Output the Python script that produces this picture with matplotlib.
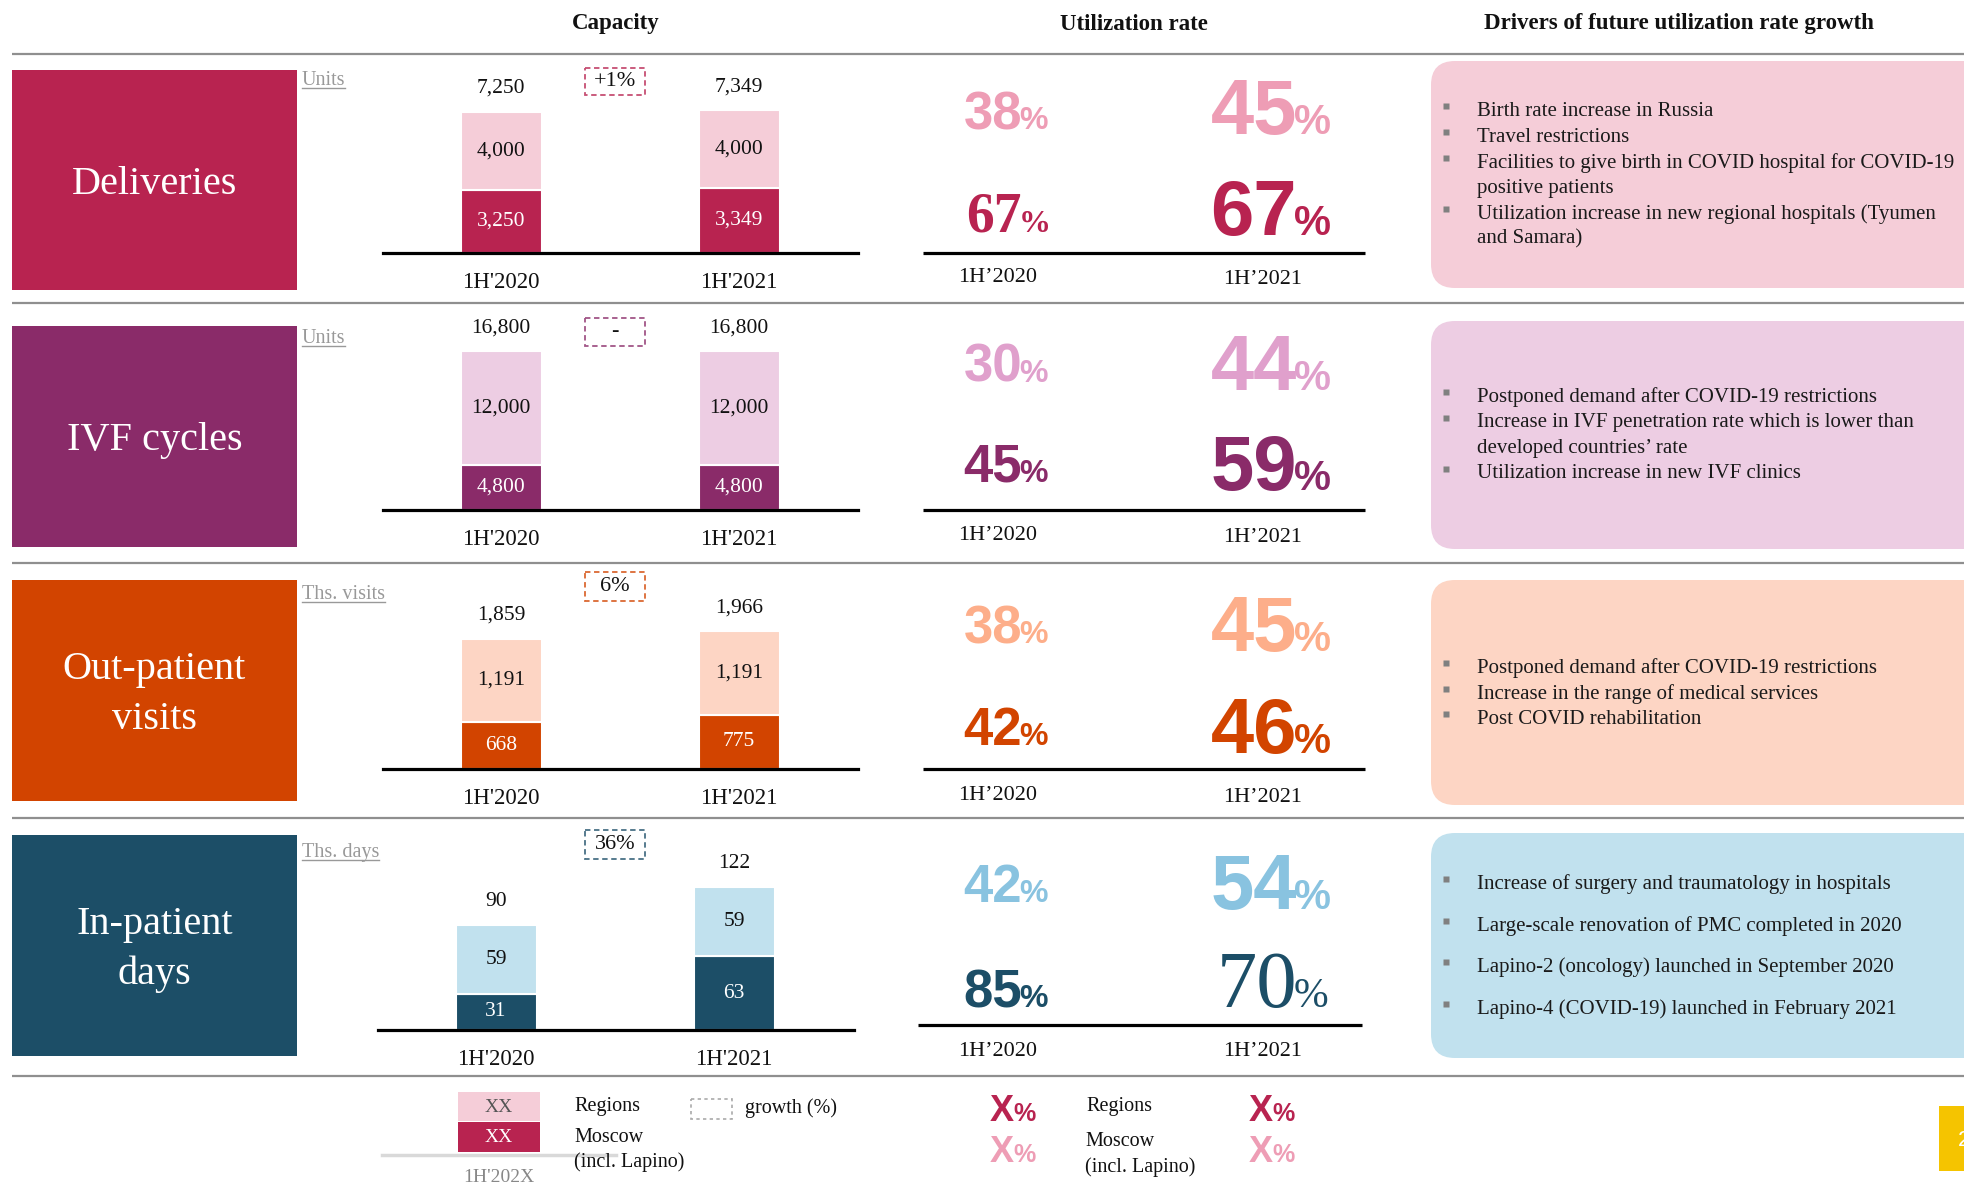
import matplotlib
matplotlib.use("Agg")
import matplotlib.pyplot as plt
from matplotlib.patches import Rectangle, FancyBboxPatch

W, H = 1964, 1186
SERIF = ['Liberation Serif', 'DejaVu Serif']
NARROW = ['Liberation Sans Narrow', 'Liberation Sans', 'DejaVu Sans']

# ---------------- data ----------------
periods = ["1H'2020", "1H'2021"]
util_periods = ["1H\u20192020", "1H\u20192021"]
segment_names = ["Deliveries", "IVF cycles", "Out-patient\nvisits", "In-patient\ndays"]
unit_labels = ["Units", "Units", "Ths. visits", "Ths. days"]

deliveries_moscow = [3250, 3349]
deliveries_regions = [4000, 4000]
ivf_moscow = [4800, 4800]
ivf_regions = [12000, 12000]
outpatient_moscow = [668, 775]
outpatient_regions = [1191, 1191]
inpatient_moscow = [31, 63]
inpatient_regions = [59, 59]

growth_labels = ["+1%", "-", "6%", "36%"]

util_light = [[38, 45], [30, 44], [38, 45], [42, 54]]
util_dark = [[67, 67], [45, 59], [42, 46], [85, 70]]

drivers_deliveries = ["Birth rate increase in Russia", "Travel restrictions",
                      "Facilities to give birth in COVID hospital for COVID-19\npositive patients",
                      "Utilization increase in new regional hospitals (Tyumen\nand Samara)"]
drivers_ivf = ["Postponed demand after COVID-19 restrictions",
               "Increase in IVF penetration rate which is lower than\ndeveloped countries\u2019 rate",
               "Utilization increase in new IVF clinics"]
drivers_outpatient = ["Postponed demand after COVID-19 restrictions",
                      "Increase in the range of medical services",
                      "Post COVID rehabilitation"]
drivers_inpatient = ["Increase of surgery and traumatology in hospitals",
                     "Large-scale renovation of PMC completed in 2020",
                     "Lapino-2 (oncology) launched in September 2020",
                     "Lapino-4 (COVID-19) launched in February 2021"]

moscow_series = [deliveries_moscow, ivf_moscow, outpatient_moscow, inpatient_moscow]
regions_series = [deliveries_regions, ivf_regions, outpatient_regions, inpatient_regions]
drivers_all = [drivers_deliveries, drivers_ivf, drivers_outpatient, drivers_inpatient]

# ---------------- styling / layout ----------------
dark_colors = ["#B82350", "#8A2B69", "#D24400", "#1C4E67"]
light_colors = ["#F5CDD8", "#EDCDE3", "#FDD5C4", "#C1E1EE"]
util_light_colors = ["#EE9DB5", "#E0A0CC", "#FDAE8A", "#89C3E0"]
box_colors = ["#F5CDD8", "#EDCDE3", "#FDD5C4", "#C1E1EE"]
line_gray = "#8f8f8f"

box_top = [70, 326, 580, 835]
box_bot = [290, 547, 801, 1056]
units_base = [85, 343, 599, 857]
bar_base = [253, 510, 769, 1030]
bar_top = [110, 351, 631, 887]
bar_left = [383, 383, 383, 378]
bar_right = [858, 858, 858, 854]
bar_c0 = [501, 501, 501, 496]
bar_step = 238
growth_box = [(68, 95), (318, 346), (572, 601), (830, 859)]
util_line_y = [253, 510, 769, 1025]
util_line_x = [(923, 1365), (923, 1365), (923, 1365), (918, 1362)]
util_lab_y = [(277, 279), (535, 536), (795, 797), (1050, 1050)]
util_top_base = [(129, 134), (382, 390), (643, 651), (902, 909)]
util_bot_base = [(232, 235), (482, 490), (745, 753), (1007, 1007)]
drv_box = [(61, 288), (321, 549), (580, 805), (833, 1058)]
drv_lines_y = [[111, 137, 163, 188, 214, 239], [397, 423, 449, 474],
               [668, 694, 719], [884, 926, 967, 1009]]
separators = [54, 303, 563, 818, 1076]

fig = plt.figure(figsize=(W / 100, H / 100), dpi=100)
bg = fig.add_axes([0, 0, 1, 1])
bg.set_xlim(0, W)
bg.set_ylim(H, 0)
bg.axis('off')

# headers
for x, t in [(616, "Capacity"), (1134, "Utilization rate"),
             (1679, "Drivers of future utilization rate growth")]:
    bg.text(x, 24, t, ha='center', va='center', fontsize=16.5, fontweight='bold',
            family=SERIF, color='#111111')

for y in separators:
    bg.plot([12, W], [y, y], color=line_gray, lw=1.6, solid_capstyle='butt')

unit_texts = []
for i in range(4):
    dark, light = dark_colors[i], light_colors[i]
    # category box
    bg.add_patch(Rectangle((12, box_top[i]), 285, box_bot[i] - box_top[i], color=dark, lw=0))
    bg.text(154.5, (box_top[i] + box_bot[i]) / 2 + 4, segment_names[i], ha='center', va='center',
            color='white', fontsize=29, family=SERIF, linespacing=1.45)
    ut = bg.text(302, units_base[i], unit_labels[i], ha='left', va='baseline',
                 fontsize=14.5, family=SERIF, color='#999999')
    unit_texts.append((ut, units_base[i]))

    # growth box
    gy0, gy1 = growth_box[i]
    bg.add_patch(Rectangle((585, gy0), 60, gy1 - gy0, fill=False, ec=dark, lw=1.3,
                           ls=(0, (3, 2)), alpha=0.8))
    bg.text(615, (gy0 + gy1) / 2, growth_labels[i], ha='center', va='center',
            fontsize=16, family=SERIF, color='#111111')

    # capacity bars
    mos = moscow_series[i]
    reg = regions_series[i]
    totals = [m + r for m, r in zip(mos, reg)]
    L, R, B, T = bar_left[i], bar_right[i], bar_base[i], bar_top[i]
    ax = fig.add_axes([L / W, 1 - B / H, (R - L) / W, (B - T) / H])
    ax.set_facecolor('none')
    xs = [0, 1]
    bw = 81 / bar_step
    ax.bar(xs, mos, width=bw, color=dark, edgecolor='white', linewidth=1.5)
    ax.bar(xs, reg, bottom=mos, width=bw, color=light, edgecolor='white', linewidth=1.5)
    ax.set_xlim((L - bar_c0[i]) / bar_step, (R - bar_c0[i]) / bar_step)
    ax.set_ylim(0, max(totals))
    for s in ['top', 'left', 'right']:
        ax.spines[s].set_visible(False)
    ax.spines['bottom'].set_linewidth(2.3)
    ax.spines['bottom'].set_color('black')
    ax.set_yticks([])
    ax.set_xticks(xs)
    ax.set_xticklabels(periods, fontsize=16.5, family=SERIF, color='#111111')
    ax.tick_params(axis='x', length=0, pad=14)
    for x, m, r, t in zip(xs, mos, reg, totals):
        ax.text(x, m / 2, f"{m:,}", ha='center', va='center', color='white',
                fontsize=15.5, family=SERIF)
        ax.text(x, m + r / 2, f"{r:,}", ha='center', va='center', color='#111111',
                fontsize=15.5, family=SERIF)
        ax.annotate(f"{t:,}", (x, t), xytext=(0, 10), textcoords='offset points',
                    ha='center', va='bottom', fontsize=15.5, family=SERIF, color='#111111',
                    annotation_clip=False)

    # utilization
    lx0, lx1 = util_line_x[i]
    bg.plot([lx0, lx1], [util_line_y[i]] * 2, color='black', lw=2.3, solid_capstyle='butt')
    for j, xl in enumerate([998, 1263]):
        bg.text(xl, util_lab_y[i][j] + 1, util_periods[j], ha='center', va='center',
                fontsize=16, family=SERIF, color='#111111')
    for j in range(2):
        xr = 1022 if j == 0 else 1297
        big = (j == 1)
        dsz = 56 if big else 38
        psz = 30 if big else 23
        yb = util_top_base[i][j]
        bg.text(xr, yb, f"{util_light[i][j]}", ha='right', va='baseline', fontsize=dsz,
                fontweight='bold', family=NARROW, color=util_light_colors[i])
        bg.text(xr - 3, yb, "%", ha='left', va='baseline', fontsize=psz,
                fontweight='bold', family=NARROW, color=util_light_colors[i])
        yb = util_bot_base[i][j]
        fam, fw = NARROW, 'bold'
        if (i == 0 and j == 0):
            fam, fw = SERIF, 'bold'
        if (i == 3 and j == 1):
            fam, fw = SERIF, 'normal'
        dsz2 = dsz + (2 if fam == SERIF else 0)
        bg.text(xr, yb, f"{util_dark[i][j]}", ha='right', va='baseline', fontsize=dsz2,
                fontweight=fw, family=fam, color=dark)
        bg.text(xr - 3, yb, "%", ha='left', va='baseline', fontsize=psz,
                fontweight=fw, family=fam, color=dark)

    # drivers box
    dy0, dy1 = drv_box[i]
    bg.add_patch(FancyBboxPatch((1431, dy0), 560, dy1 - dy0,
                                boxstyle="round,pad=0,rounding_size=24",
                                fc=box_colors[i], ec='none'))
    li = 0
    ys = drv_lines_y[i]
    for item in drivers_all[i]:
        parts = item.split("\n")
        bg.plot([1446], [ys[li] - 5], marker='s', ms=5, color='#808080', mec='none')
        for p in parts:
            bg.text(1477, ys[li], p, ha='left', va='center', fontsize=15,
                    family=SERIF, color='#1a1a1a')
            li += 1

# ---------------- legend ----------------
bg.add_patch(Rectangle((458, 1092), 82, 29, color=light_colors[0], lw=0))
bg.add_patch(Rectangle((458, 1122), 82, 30, color=dark_colors[0], lw=0))
bg.plot([382, 616], [1155, 1155], color='#d9d9d9', lw=2.5)
bg.text(499, 1107, "XX", ha='center', va='center', fontsize=14, family=SERIF, color='#555555')
bg.text(499, 1137, "XX", ha='center', va='center', fontsize=14, family=SERIF, color='white')
bg.text(499, 1178, "1H'202X", ha='center', va='center', fontsize=14, family=SERIF, color='#888888')
bg.text(574, 1106, "Regions", ha='left', va='center', fontsize=14.5, family=SERIF, color='#111111')
bg.text(574, 1137, "Moscow", ha='left', va='center', fontsize=14.5, family=SERIF, color='#111111')
bg.text(574, 1162, "(incl. Lapino)", ha='left', va='center', fontsize=14.5, family=SERIF, color='#111111')
bg.add_patch(Rectangle((691, 1099), 41, 20, fill=False, ec='#aaaaaa', lw=1.2, ls=(0, (2, 2))))
bg.text(745, 1108, "growth (%)", ha='left', va='center', fontsize=14.5, family=SERIF, color='#111111')

for xr in [1014, 1273]:
    for yb, col in [(1121, dark_colors[0]), (1162, util_light_colors[0])]:
        bg.text(xr, yb, "X", ha='right', va='baseline', fontsize=26, fontweight='bold',
                family=NARROW, color=col)
        bg.text(xr - 1, yb, "%", ha='left', va='baseline', fontsize=18, fontweight='bold',
                family=NARROW, color=col)
bg.text(1086, 1107, "Regions", ha='left', va='center', fontsize=14.5, family=SERIF, color='#111111')
bg.text(1085, 1141, "Moscow", ha='left', va='center', fontsize=14.5, family=SERIF, color='#111111')
bg.text(1085, 1167, "(incl. Lapino)", ha='left', va='center', fontsize=14.5, family=SERIF, color='#111111')

# page tab
bg.add_patch(Rectangle((1939, 1106), 30, 65, color='#F5C400', lw=0))
bg.text(1958, 1140, "2", ha='left', va='center', fontsize=16, color='white', family=['Liberation Sans'])

# underline the unit labels
fig.canvas.draw()
r = fig.canvas.get_renderer()
for t, yb in unit_texts:
    bb = t.get_window_extent(r)
    bg.plot([bb.x0, bb.x1], [yb + 3, yb + 3], color='#999999', lw=1.0)

fig.savefig("out.png", dpi=100)
